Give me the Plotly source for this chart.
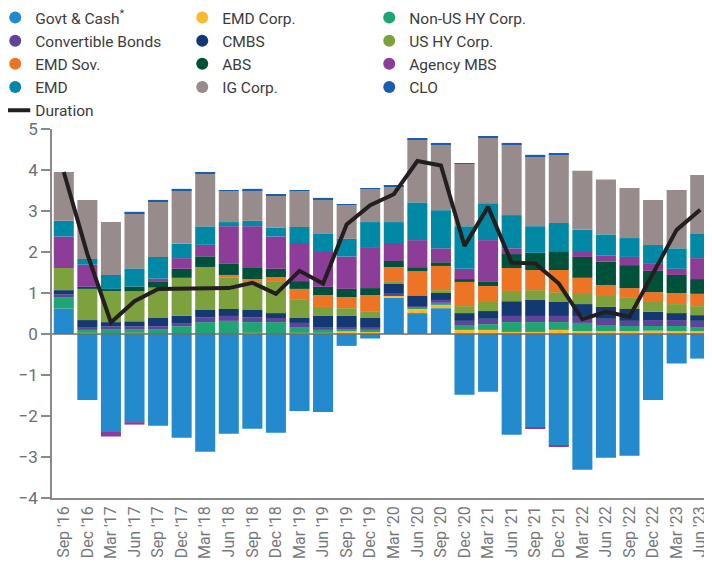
import plotly.graph_objects as go

quarters = ["Sep '16", "Dec '16", "Mar '17", "Jun '17", "Sep '17", "Dec '17", "Mar '18",
            "Jun '18", "Sep '18", "Dec '18", "Mar '19", "Jun '19", "Sep '19", "Dec '19",
            "Mar '20", "Jun '20", "Sep '20", "Dec '20", "Mar '21", "Jun '21", "Sep '21",
            "Dec '21", "Mar '22", "Jun '22", "Sep '22", "Dec '22", "Mar '23", "Jun '23"]

govt_cash = [0.62, -1.61, -2.39, -2.15, -2.24, -2.53, -2.87, -2.43, -2.31, -2.41, -1.88, -1.90, -0.29, -0.11,
             0.88, 0.51, 0.63, -1.48, -1.41, -2.46, -2.29, -2.73, -3.31, -3.02, -2.97, -1.61, -0.72, -0.60]
emd_corp = [0.00, 0.03, 0.00, 0.03, 0.00, 0.00, 0.00, 0.00, 0.03, 0.00, 0.03, 0.03, 0.065, 0.07,
            0.05, 0.12, 0.08, 0.10, 0.10, 0.05, 0.05, 0.10, 0.07, 0.07, 0.07, 0.08, 0.07, 0.07]
non_us_hy = [0.28, 0.07, 0.12, 0.09, 0.12, 0.19, 0.29, 0.32, 0.26, 0.29, 0.14, 0.07, 0.065, 0.03,
             0.02, 0.03, 0.05, 0.12, 0.14, 0.24, 0.24, 0.19, 0.20, 0.15, 0.125, 0.115, 0.125, 0.10]
convertible = [0.06, 0.07, 0.07, 0.07, 0.07, 0.06, 0.12, 0.12, 0.12, 0.10, 0.10, 0.07, 0.04, 0.05,
               0.03, 0.02, 0.07, 0.10, 0.13, 0.15, 0.15, 0.15, 0.17, 0.15, 0.125, 0.145, 0.145, 0.15]
cmbs = [0.11, 0.17, 0.10, 0.12, 0.20, 0.20, 0.175, 0.17, 0.175, 0.12, 0.12, 0.27, 0.27, 0.24,
        0.24, 0.25, 0.17, 0.19, 0.19, 0.36, 0.39, 0.34, 0.29, 0.29, 0.29, 0.20, 0.17, 0.14]
us_hy = [0.54, 0.76, 0.76, 0.73, 0.74, 0.92, 1.05, 0.76, 0.685, 0.76, 0.46, 0.22, 0.19, 0.15,
         0.05, 0.02, 0.07, 0.17, 0.22, 0.25, 0.24, 0.24, 0.27, 0.29, 0.27, 0.24, 0.22, 0.22]
emd_sov = [0.00, 0.00, 0.00, 0.00, 0.00, 0.00, 0.00, 0.07, 0.07, 0.12, 0.25, 0.29, 0.27, 0.41,
           0.36, 0.58, 0.59, 0.59, 0.39, 0.56, 0.49, 0.54, 0.37, 0.24, 0.24, 0.24, 0.27, 0.30]
abs_ = [0.00, 0.05, 0.05, 0.12, 0.14, 0.22, 0.26, 0.27, 0.27, 0.20, 0.19, 0.20, 0.20, 0.17,
        0.15, 0.10, 0.09, 0.07, 0.10, 0.34, 0.42, 0.46, 0.51, 0.58, 0.56, 0.52, 0.44, 0.36]
agency_mbs = [0.77, 0.54, -0.11, -0.06, 0.08, 0.26, 0.28, 0.92, 1.02, 0.79, 0.93, 0.85, 0.79, 1.00,
              0.44, 0.66, 0.34, 0.25, 1.02, 0.14, -0.02, -0.02, 0.12, 0.15, 0.20, 0.17, 0.15, 0.51]
emd = [0.38, 0.14, 0.34, 0.44, 0.53, 0.35, 0.45, 0.10, 0.13, 0.21, 0.39, 0.44, 0.43, 0.61,
       0.51, 0.92, 0.93, 1.04, 0.90, 0.81, 0.65, 0.69, 0.54, 0.51, 0.46, 0.46, 0.50, 0.59]
ig_corp = [1.19, 1.44, 1.29, 1.35, 1.36, 1.31, 1.28, 0.76, 0.75, 0.80, 0.88, 0.85, 0.83, 0.81,
           0.86, 1.54, 1.61, 1.52, 1.61, 1.73, 1.71, 1.68, 1.44, 1.34, 1.22, 1.10, 1.42, 1.44]
clo = [0.00, 0.00, 0.00, 0.03, 0.03, 0.03, 0.03, 0.02, 0.03, 0.02, 0.02, 0.03, 0.02, 0.02,
       0.02, 0.03, 0.03, 0.02, 0.03, 0.03, 0.03, 0.02, 0.00, 0.00, 0.00, 0.00, 0.00, 0.00]
duration = [3.95, 1.95, 0.28, 0.80, 1.10, 1.10, 1.12, 1.12, 1.25, 0.98, 1.54, 1.23, 2.67, 3.14,
            3.41, 4.22, 4.11, 2.15, 3.10, 1.74, 1.72, 1.23, 0.36, 0.54, 0.42, 1.48, 2.54, 3.03]

series = [
    ("Govt & Cash<sup>*</sup>", govt_cash, "#228ACD"),
    ("EMD Corp.", emd_corp, "#FDB92E"),
    ("Non-US HY Corp.", non_us_hy, "#1FA573"),
    ("Convertible Bonds", convertible, "#60449A"),
    ("CMBS", cmbs, "#143872"),
    ("US HY Corp.", us_hy, "#7DA23D"),
    ("EMD Sov.", emd_sov, "#EE7425"),
    ("ABS", abs_, "#00513A"),
    ("Agency MBS", agency_mbs, "#8C3D97"),
    ("EMD", emd, "#0088A5"),
    ("IG Corp.", ig_corp, "#978B8C"),
    ("CLO", clo, "#1A5DAD"),
]

fig = go.Figure()
for name, vals, color in series:
    fig.add_trace(go.Bar(x=quarters, y=vals, name=name, marker=dict(color=color, line=dict(width=0)),
                         showlegend=False))
for name, vals, color in series:
    fig.add_trace(go.Scatter(x=[None], y=[None], mode="markers", name=name,
                             marker=dict(symbol="circle", size=12, color=color)))
fig.add_trace(go.Scatter(x=quarters, y=duration, mode="lines", name="Duration",
                         line=dict(color="#231F20", width=4)))

fig.add_shape(type="line", xref="paper", x0=0, x1=1, yref="y", y0=0, y1=0,
              line=dict(color="#6E6E6E", width=1.5), layer="above")

fig.update_layout(
    width=712, height=571,
    margin=dict(l=44, r=8, t=121, b=81, autoexpand=False),
    barmode="relative", bargap=0.15,
    plot_bgcolor="white", paper_bgcolor="white",
    font=dict(family="Roboto, Arial, sans-serif", color="#6D6E71"),
    legend=dict(orientation="h", x=-0.086, y=1.347,
                xanchor="left", yanchor="top", entrywidth=142, entrywidthmode="pixels",
                font=dict(size=15.5, color="#3C3C3C"), traceorder="normal",
                itemwidth=30, bgcolor="rgba(0,0,0,0)"),
    xaxis=dict(type="category", tickangle=-90, showgrid=False, zeroline=False,
               showline=True, linecolor="#8A8A8A", linewidth=1.5, ticks="",
               tickfont=dict(size=16, color="#77787B")),
    yaxis=dict(range=[-4, 5], tickvals=list(range(-4, 6)), showgrid=False, zeroline=False,
               showline=True, linecolor="#8A8A8A", linewidth=1.5, ticks="outside",
               ticklen=9, tickwidth=1.5, tickcolor="#8A8A8A",
               tickfont=dict(size=17, color="#6D6E71")),
)

fig.write_html("out.html")
